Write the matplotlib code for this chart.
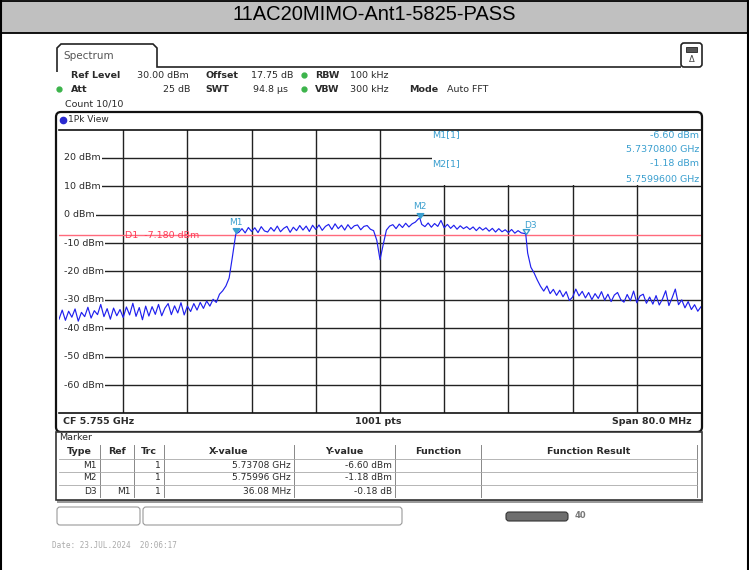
import numpy as np
import matplotlib.pyplot as plt
from matplotlib.patches import Rectangle, FancyBboxPatch, PathPatch
from matplotlib.path import Path
from matplotlib.markers import MarkerStyle

# sweep settings
f_start = 5.715   # GHz
f_stop = 5.795
step_mhz = 0.4

# trace levels in dBm, one value every 0.4 MHz from f_start
noise_left = [-36.8, -33.6, -37.2, -34.0, -36.1, -33.2, -37.5, -34.4, -35.9, -32.6,
              -36.4, -33.8, -35.2, -31.6, -35.9, -33.1, -36.8, -32.9, -35.6, -33.4,
              -36.2, -32.5, -35.3, -31.2, -35.8, -32.7, -37.0, -32.2, -35.7, -32.4,
              -35.1, -31.6, -35.6, -32.9, -31.3, -35.2, -32.1, -34.6, -31.0, -35.3,
              -32.2, -34.1, -31.3, -33.6, -30.9, -33.0, -30.4, -32.2, -29.8, -30.9]
rise = [-28.0, -26.8, -25.1, -22.3, -15.0, -7.3]
band = [-6.2, -4.9, -6.4, -4.5, -5.9, -4.6, -6.3, -4.2, -5.7, -6.1,
        -4.5, -5.8, -4.0, -6.0, -4.8, -4.1, -6.2, -4.4, -5.6, -3.8,
        -5.4, -4.0, -5.9, -3.7, -5.2, -3.6, -5.5, -4.1, -3.4, -5.2,
        -3.2, -4.9, -3.7, -5.4, -3.5, -5.0, -3.9, -3.6, -5.3, -4.1,
        -3.8, -5.1, -5.6, -9.0, -15.8, -10.5, -5.4, -4.0, -3.5, -4.9,
        -3.3, -4.5, -3.0, -4.3, -3.2, -2.6, -1.4, -3.4, -4.2, -2.9,
        -4.4, -3.1, -4.1, -2.0, -4.6, -3.4, -4.8, -3.7, -5.1, -3.9,
        -4.9, -4.2, -5.2, -4.3, -5.6, -4.4, -5.4, -4.6, -5.8, -4.8,
        -6.1, -4.9, -6.0, -5.3, -6.3, -5.2, -6.5, -5.6, -6.4, -6.6]
fall = [-13.5, -18.5, -20.5, -23.0]
noise_right = [-25.2, -26.9, -25.1, -27.8, -26.3, -28.4, -26.6, -28.9, -27.1, -30.2,
               -29.0, -26.2, -28.6, -27.0, -29.3, -27.4, -29.9, -27.8, -29.5, -27.1,
               -30.1, -28.0, -30.6, -28.3, -27.4, -29.9, -30.8, -28.1, -30.3, -26.9,
               -31.0, -28.6, -28.0, -31.2, -29.0, -31.5, -28.5, -31.8, -29.7, -26.8,
               -32.0, -29.3, -26.2, -31.7, -30.0, -32.8, -30.6, -33.4, -31.7, -34.0,
               -32.4]

# markers from the marker table
marker_names = ["M1", "M2", "D3"]
marker_freq = [5.73708, 5.75996, 5.73708 + 0.03608]
marker_level = [-6.60, -1.18, -6.60 - 0.18]
d1_level = -7.180

y_ticks = [20, 10, 0, -10, -20, -30, -40, -50, -60]

levels = np.array(noise_left + rise + band + fall + noise_right)
freq = f_start + np.arange(len(levels)) * step_mhz / 1000
tf = np.concatenate([freq, marker_freq])
tl = np.concatenate([levels, marker_level])
order = np.argsort(tf)
tf, tl = tf[order], tl[order]

W, H = 749, 570
fig = plt.figure(figsize=(W / 100, H / 100), dpi=100)
fig.patch.set_facecolor("white")

bg = fig.add_axes([0, 0, 1, 1])
bg.set_xlim(0, W)
bg.set_ylim(H, 0)
bg.axis("off")

txt = "#2a2a2a"
mk = "#3a9fcf"
font = "DejaVu Sans"

# title bar and outer border
bg.add_patch(Rectangle((0.5, 0.5), W - 1.5, 32, fc="#c0c0c0", ec="black", lw=1.3))
bg.plot([0.8, 0.8], [0, H], color="black", lw=1.5)
bg.plot([W - 1.2, W - 1.2], [0, H], color="black", lw=1.5)

# spectrum tab
tab = Path([(57, 72), (57, 48), (61, 44), (153, 44), (157, 48), (157, 67), (681, 67)],
           [Path.MOVETO] + [Path.LINETO] * 6)
bg.add_patch(PathPatch(tab, fc="none", ec="#222", lw=1.2))
bg.add_patch(FancyBboxPatch((681, 43), 21, 24, boxstyle="round,pad=0,rounding_size=3",
                            fc="white", ec="#222", lw=1.2))
bg.add_patch(Rectangle((686, 47), 11, 5, fc="#555", ec="#222", lw=0.6))
bg.text(691.5, 60, "\u0394", fontsize=6, ha="center", va="center", color="#444")

# graph frame
bg.add_patch(FancyBboxPatch((56, 112), 646, 320, boxstyle="round,pad=0,rounding_size=5",
                            fc="white", ec="#111", lw=1.6))
# marker table frame with shadow
bg.add_patch(Rectangle((57, 500), 646, 3, fc="#9a9a9a", ec="none"))
bg.add_patch(Rectangle((56, 432), 646, 68, fc="white", ec="#333", lw=1.2))

# spectrum axes
ax = fig.add_axes([59 / W, 1 - 413.4 / H, 642 / W, 283.8 / H])
ax.set_xlim(f_start, f_stop)
ax.set_ylim(-70, 30)
ax.set_xticks([])
ax.set_yticks([])
for s in ["left", "right"]:
    ax.spines[s].set_visible(False)
for s in ["top", "bottom"]:
    ax.spines[s].set_color("#111")
    ax.spines[s].set_linewidth(1.2)

span = f_stop - f_start
for k in range(1, 10):
    ax.axvline(f_start + k * span / 10, color="#222", lw=1.0, zorder=1)
x_lab = f_start + 5 / 642 * span
ax.hlines(y_ticks, x_lab, f_stop, color="#222", lw=1.0, zorder=1)
for y in y_ticks:
    ax.text(x_lab, y, f"{y} dBm", fontsize=6.8, ha="left", va="center", color=txt,
            family=font, zorder=3,
            bbox=dict(boxstyle="square,pad=0.12", fc="white", ec="none"))

# area behind the marker readout
ax.add_patch(Rectangle((f_start + (432 - 59) / 642 * span, 10.5), span, 20,
                       fc="white", ec="none", zorder=2))

ax.axhline(d1_level, color="#ff6a7c", lw=1.0, zorder=3.5)
ax.text(f_start + (125 - 59) / 642 * span, d1_level, "D1  -7.180 dBm", fontsize=6.8,
        color="#ff3a55", ha="left", va="center", zorder=3.6)

ax.plot(tf, tl, color="#2020ee", lw=0.85, zorder=4)

tri = MarkerStyle(Path([(0, 0), (-0.8, 1.2), (0.8, 1.2), (0, 0)]))
for name, f, l in zip(marker_names, marker_freq, marker_level):
    if name == "D3":
        ax.plot(f, l, marker=tri, ms=7, mfc="none", mec=mk, mew=1.0, zorder=5)
        ax.annotate(name, (f, l), xytext=(-1, 3), textcoords="offset points",
                    fontsize=6.5, color=mk, ha="left", va="bottom", zorder=5)
    else:
        ax.plot(f, l, marker=tri, ms=7, color=mk, zorder=5)
        ax.annotate(name, (f, l), xytext=(0, 5), textcoords="offset points",
                    fontsize=6.5, color=mk, ha="center", va="bottom", zorder=5)

# overlay for all text on top
ov = fig.add_axes([0, 0, 1, 1])
ov.set_xlim(0, W)
ov.set_ylim(H, 0)
ov.axis("off")
ov.patch.set_alpha(0)

ov.text(W / 2, 15, "11AC20MIMO-Ant1-5825-PASS", fontsize=14.5, family="Liberation Sans",
        ha="center", va="center", color="black")

ov.text(63, 56, "Spectrum", fontsize=7.5, color="#555", ha="left", va="center", family=font)

def item(x, y, s, bold=False, ha="left", color=txt, size=6.8):
    ov.text(x, y, s, fontsize=size, ha=ha, va="center", color=color, family=font,
            weight="bold" if bold else "normal")

item(71, 75, "Ref Level", True)
item(137, 75, "30.00 dBm")
item(205, 75, "Offset", True)
item(251, 75, "17.75 dB")
item(315, 75, "RBW", True)
item(350, 75, "100 kHz")
item(71, 89, "Att", True)
item(190, 89, "25 dB", ha="right")
item(205, 89, "SWT", True)
item(253, 89, "94.8 \u00b5s")
item(315, 89, "VBW", True)
item(350, 89, "300 kHz")
item(409, 89, "Mode", True)
item(447, 89, "Auto FFT")
item(65, 104, "Count 10/10")
for gx, gy in [(304, 75), (304, 89), (59, 89)]:
    ov.plot(gx, gy, "o", ms=3.5, color="#3cb44b")

ov.plot(63, 120, "o", ms=4.5, color="#2a2ad0")
item(68, 120, "1Pk View", size=6.5)

item(432, 135, "M1[1]", color=mk)
item(699, 136, "-6.60 dBm", ha="right", color=mk)
item(699, 150, "5.7370800 GHz", ha="right", color=mk)
item(432, 164, "M2[1]", color=mk)
item(699, 164, "-1.18 dBm", ha="right", color=mk)
item(699, 179, "5.7599600 GHz", ha="right", color=mk)

item(63, 421, "CF 5.755 GHz", True)
item(378, 421, "1001 pts", True, ha="center")
item(692, 421, "Span 80.0 MHz", True, ha="right")

# marker table
item(59, 438, "Marker")
cols = [59, 100, 134, 164, 294, 395, 481, 697]
heads = ["Type", "Ref", "Trc", "X-value", "Y-value", "Function", "Function Result"]
rows_y = [445, 459, 472, 485, 497]
for c in cols[1:]:
    ov.plot([c, c], [rows_y[0], rows_y[-1]], color="#888", lw=0.7)
for ry in rows_y[1:-1]:
    ov.plot([cols[0], cols[-1]], [ry, ry], color="#aaa", lw=0.6)
for i, h in enumerate(heads):
    item((cols[i] + cols[i + 1]) / 2, 452, h, True, ha="center")
table_rows = [
    ["M1", "", "1", "5.73708 GHz", "-6.60 dBm"],
    ["M2", "", "1", "5.75996 GHz", "-1.18 dBm"],
    ["D3", "M1", "1", "36.08 MHz", "-0.18 dB"],
]
for r, cy in zip(table_rows, [466, 478, 491]):
    for i, s in enumerate(r):
        item(cols[i + 1] - 3, cy, s, ha="right", size=6.5)

# status area
bg.add_patch(FancyBboxPatch((57, 507), 83, 18, boxstyle="round,pad=0,rounding_size=3",
                            fc="white", ec="#999", lw=0.8))
bg.add_patch(FancyBboxPatch((143, 507), 259, 18, boxstyle="round,pad=0,rounding_size=3",
                            fc="white", ec="#999", lw=0.8))
bg.add_patch(FancyBboxPatch((506, 512), 62, 9, boxstyle="round,pad=0,rounding_size=3",
                            fc="#6e6e6e", ec="#333", lw=0.8))
ov.text(580, 516, "40", fontsize=6, weight="bold", color="#777", ha="center", va="center")

ov.text(52, 546, "Date: 23.JUL.2024  20:06:17", fontsize=5.5, family="DejaVu Sans Mono",
        color="#aaaaaa", ha="left", va="center")

fig.savefig("out.png", dpi=100)
